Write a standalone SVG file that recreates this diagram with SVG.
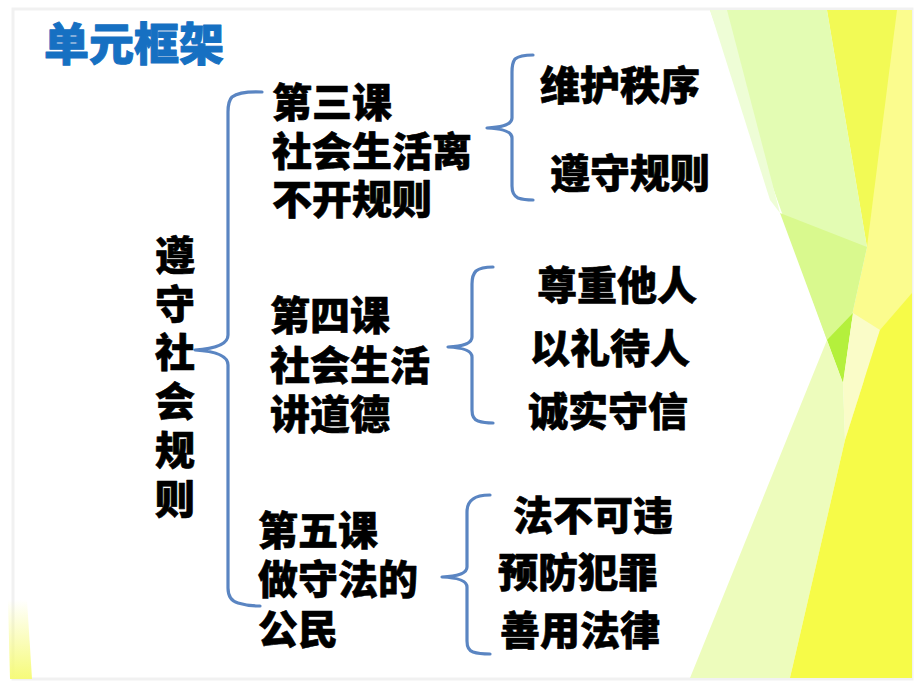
<svg xmlns="http://www.w3.org/2000/svg" width="920" height="690" viewBox="0 0 920 690">
<defs>
<style>
.t{font-family:"Noto Sans CJK SC","Noto Sans CJK JP",sans-serif;font-weight:900;font-size:40px;fill:#000;stroke:#000;stroke-width:0.6;stroke-linejoin:round}
.title{font-family:"Noto Sans CJK SC","Noto Sans CJK JP",sans-serif;font-weight:900;font-size:45px;fill:#1670c2;stroke:#1670c2;stroke-width:1;stroke-linejoin:round}
.br{fill:none;stroke:#5a85c2;stroke-width:3.2;stroke-linecap:round;stroke-linejoin:round}
</style>
<linearGradient id="ly" x1="0" y1="0" x2="0" y2="1">
<stop offset="0" stop-color="#f6fb7a" stop-opacity="0"/>
<stop offset="1" stop-color="#f6fb7a" stop-opacity="1"/>
</linearGradient>
</defs>
<rect width="920" height="690" fill="#ffffff"/>
<rect x="13" y="9" width="899" height="670" fill="#ffffff" stroke="#f1f1f1" stroke-width="3"/>
<g id="background">
<polygon points="827,10 912,10 912,678 790,678 868,400 852,315 867,247" fill="#fbfc8e"/>
<polygon points="827,10 897,10 867,247" fill="#f2fa55"/>
<polygon points="710,10 827,10 867,247 852,315 843,383 827,340" fill="#e3fcb3"/>
<polygon points="710,10 727,10 780,213 770,200" fill="#eefdd6"/>
<polygon points="780,213 867,247 852,315 843,383 827,340" fill="#d9f98e"/>
<polygon points="827,340 853,313 843,383" fill="#b4f03c"/>
<polygon points="853,313 880,330 845,440 843,383" fill="#fafcc8"/>
<polygon points="690,678 827,340 843,383 845,440 790,678" fill="#edfcbc"/>
<polygon points="790,678 912,678 912,293 880,330 845,440" fill="#f6fb48"/>
<polygon points="8,600 27,600 32,679 10,679" fill="url(#ly)"/>
</g>
<g id="title"><text class="title" x="44" y="61">单元框架</text></g>
<g id="connectors">
<path class="br" d="M262,92 Q240,91 232,97 Q228,101 228,112 L228,335 Q228,348 195,350 Q228,352 228,365 L228,588 Q228,600 238,603 Q248,606 260,606"/>
<path class="br" d="M533,55 Q520,55 515,59 Q512,63 512,72 L512,118 Q512,127 487,128 Q512,129 512,138 L512,186 Q512,195 518,198 Q524,200 533,200"/>
<path class="br" d="M493,267 Q481,267 476,271 Q472,275 472,284 L472,337 Q472,346 448,347 Q472,348 472,357 L472,410 Q472,419 478,421 Q484,423 493,423"/>
<path class="br" d="M490,495 Q478,495 473,499 Q467,503 467,512 L467,567 Q467,576 442,577 Q467,578 467,587 L467,641 Q467,650 473,652 Q479,654 490,654"/>
</g>
<g id="root"><text class="t" x="175" y="270" text-anchor="middle">遵</text><text class="t" x="175" y="319" text-anchor="middle">守</text><text class="t" x="175" y="367" text-anchor="middle">社</text><text class="t" x="175" y="416" text-anchor="middle">会</text><text class="t" x="175" y="465" text-anchor="middle">规</text><text class="t" x="175" y="514" text-anchor="middle">则</text></g>
<g id="lesson3"><text class="t" x="272" y="117">第三课</text><text class="t" x="272" y="166">社会生活离</text><text class="t" x="272" y="214">不开规则</text></g>
<g id="lesson4"><text class="t" x="270" y="330">第四课</text><text class="t" x="270" y="380">社会生活</text><text class="t" x="270" y="429">讲道德</text></g>
<g id="lesson5"><text class="t" x="258" y="545">第五课</text><text class="t" x="258" y="594">做守法的</text><text class="t" x="258" y="644">公民</text></g>
<g id="l3-items"><text class="t" x="540" y="100">维护秩序</text><text class="t" x="550" y="188">遵守规则</text></g>
<g id="l4-items"><text class="t" x="537" y="300">尊重他人</text><text class="t" x="530" y="363">以礼待人</text><text class="t" x="528" y="426">诚实守信</text></g>
<g id="l5-items"><text class="t" x="513" y="530">法不可违</text><text class="t" x="498" y="587">预防犯罪</text><text class="t" x="500" y="645">善用法律</text></g>
</svg>
